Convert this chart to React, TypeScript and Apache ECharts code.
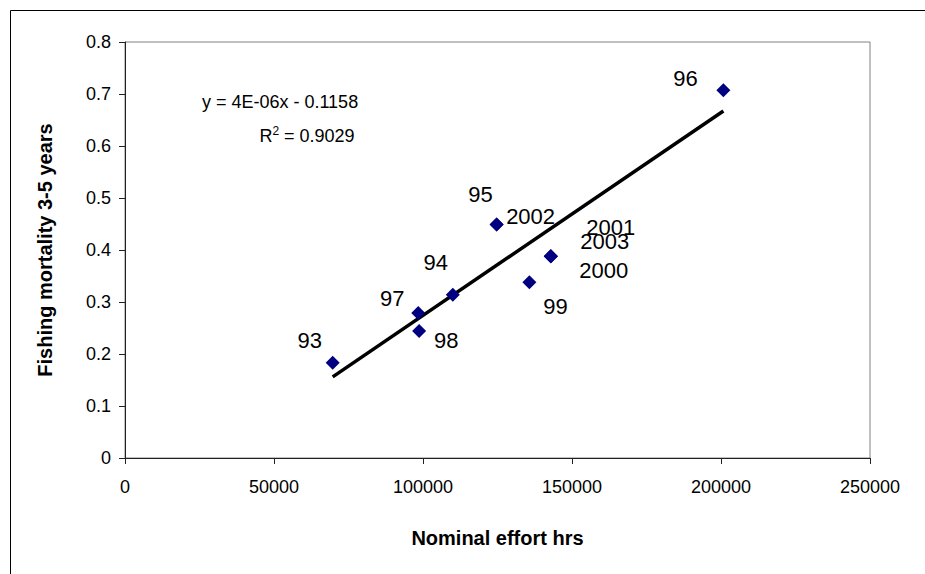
import React, { useEffect, useRef } from "react";
import * as echarts from "echarts";

// Data
const years = ["93", "97", "98", "94", "95", "2002", "99", "2000", "2001", "2003", "96"];
const effort = [69700, 98400, 98700, 110000, 124700, 124700, 135700, 142900, 142900, 142900, 200800];
const mortality = [0.183, 0.279, 0.244, 0.314, 0.449, 0.449, 0.338, 0.388, 0.388, 0.388, 0.707];

// Trendline (equation label: y = 4E-06x - 0.1158)
const trendSlope = 3.9e-6;
const trendIntercept = -0.1158;
const equationLabel = "y = 4E-06x - 0.1158";
const r2Value = "0.9029";

const xTitle = "Nominal effort hrs";
const yTitle = "Fishing mortality 3-5 years";

// label placement (style), keyed by year
const labelOffsets: Record<string, [number, number]> = {
  "93": [-23, -22],
  "97": [-26, -14],
  "98": [27, 9],
  "94": [-17, -32],
  "95": [-16, -30],
  "2002": [34, -8],
  "99": [26, 24],
  "2000": [53, 14],
  "2001": [60, -29],
  "2003": [54, -15],
  "96": [-38, -12],
};

const FONT = "Liberation Sans, Arial, sans-serif";

export default function App() {
  const ref = useRef<HTMLDivElement>(null);
  useEffect(() => {
    if (!ref.current) return;
    const chart = echarts.init(ref.current, undefined, { renderer: "svg" });
    const minX = Math.min(...effort);
    const maxX = Math.max(...effort);
    const trend = [minX, maxX].map((x) => [x, trendIntercept + trendSlope * x]);
    const points = effort.map((x, i) => ({ value: [x, mortality[i]], name: years[i] }));
    chart.setOption({
      animation: false,
      backgroundColor: "#fff",
      textStyle: { fontFamily: FONT },
      grid: {
        left: 125,
        right: 55,
        top: 42,
        bottom: 116,
        show: true,
        borderColor: "#808080",
        borderWidth: 1,
        backgroundColor: "transparent",
      },
      xAxis: {
        type: "value",
        min: 0,
        max: 250000,
        interval: 50000,
        name: xTitle,
        nameLocation: "middle",
        nameGap: 70,
        nameTextStyle: { fontSize: 20, fontWeight: "bold", color: "#000", fontFamily: FONT },
        axisLine: { show: true, onZero: false, lineStyle: { color: "#222", width: 1 } },
        axisTick: { show: true, inside: false, length: 6, lineStyle: { color: "#222" } },
        axisLabel: {
          fontSize: 18,
          color: "#000",
          margin: 20,
          fontFamily: FONT,
          formatter: (v: number) => String(v),
        },
        splitLine: { show: false },
      },
      yAxis: {
        type: "value",
        min: 0,
        max: 0.8,
        interval: 0.1,
        name: yTitle,
        nameLocation: "middle",
        nameRotate: 90,
        nameGap: 70,
        nameTextStyle: { fontSize: 20, fontWeight: "bold", color: "#000", fontFamily: FONT },
        axisLine: { show: true, onZero: false, lineStyle: { color: "#222", width: 1 } },
        axisTick: { show: true, inside: false, length: 6, lineStyle: { color: "#222" } },
        axisLabel: {
          fontSize: 18,
          color: "#000",
          margin: 14,
          fontFamily: FONT,
          formatter: (v: number) => String(Number(v.toFixed(1))),
        },
        splitLine: { show: false },
      },
      series: [
        {
          type: "line",
          data: trend,
          symbol: "none",
          lineStyle: { color: "#000", width: 3.5 },
          z: 3,
          silent: true,
        },
        {
          type: "scatter",
          data: points,
          symbol: "diamond",
          symbolSize: 14,
          itemStyle: { color: "#000080", opacity: 1 },
          z: 4,
          label: {
            show: true,
            position: "inside",
            formatter: (p: any) => p.name,
            fontSize: 22,
            color: "#000",
            fontFamily: FONT,
          },
          labelLayout: (params: any) => {
            const o = labelOffsets[years[params.dataIndex]] || [0, 0];
            return { dx: o[0], dy: o[1], hideOverlap: false };
          },
        },
      ],
      graphic: [
        {
          type: "rect",
          left: 8,
          top: 8,
          shape: { x: 0, y: 0, width: 940, height: 600 },
          style: { fill: "none", stroke: "#000", lineWidth: 1 },
          silent: true,
          z: -10,
        },
        {
          type: "text",
          x: 280,
          y: 102,
          style: {
            text: equationLabel,
            fontSize: 18,
            fill: "#000",
            fontFamily: FONT,
            align: "center",
            verticalAlign: "middle",
          },
        },
        {
          type: "text",
          x: 307,
          y: 135,
          style: {
            text: "{a|R}{s|2}{a| = " + r2Value + "}",
            fill: "#000",
            align: "center",
            verticalAlign: "middle",
            rich: {
              a: { fontSize: 18, fontFamily: FONT, fill: "#000", verticalAlign: "bottom" },
              s: { fontSize: 12, fontFamily: FONT, fill: "#000", verticalAlign: "top", padding: [0, 0, 8, 0] },
            },
          },
        },
      ],
    });
    return () => chart.dispose();
  }, []);
  return (
    <div
      ref={ref}
      style={{ position: "fixed", left: 0, top: 0, width: 925, height: 574 }}
    />
  );
}
